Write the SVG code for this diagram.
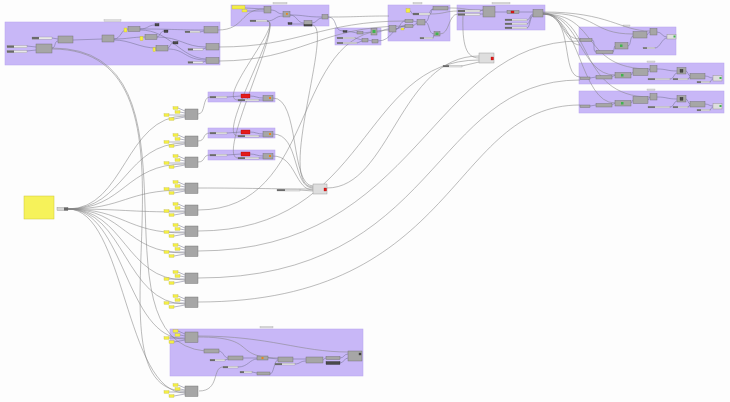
<svg xmlns="http://www.w3.org/2000/svg" width="730" height="402" viewBox="0 0 730 402">
<style>
.grp{fill:#c8b7f7;stroke:#b7a4ee;stroke-width:.5}
.ttl{fill:#dcdcdc;stroke:#a0a0a0;stroke-width:.3}
.w{fill:none;stroke:#858585;stroke-width:.55}
.wl{fill:none;stroke:#6f6f8a;stroke-width:.5}
.n{fill:#a6a6a6;stroke:#6a6a6a;stroke-width:.4}
.nl{fill:#dedede;stroke:#8a8a8a;stroke-width:.4}
.d{fill:#4a4a4a;stroke:#222;stroke-width:.3}
.y{fill:#f3ee45;stroke:#bdb42c;stroke-width:.3}
.sl{fill:#e8e8e8;stroke:#888;stroke-width:.3}
.sk{fill:#6a6a6a}
.g{fill:#3fb34f}
.r{fill:#e31b1b;stroke:#9a0000;stroke-width:.3}
.o{fill:#e8841f}
</style>
<defs>
<g id="cl">
<path class="wl" d="M178 -1 L185 2 M180 3 L185 4 M169 6 L185 6 M174 10 L185 8"/>
<rect class="y" x="173" y="-2.3" width="5" height="2.6"/>
<rect class="y" x="175" y="1.7" width="5" height="2.6"/>
<rect class="y" x="164" y="4.7" width="5" height="2.6"/>
<rect class="y" x="169" y="8.7" width="5" height="2.6"/>
<rect class="n" x="185" y="0" width="13" height="10.5"/>
</g>
<g id="redgrp">
<rect class="sl" x="210" y="96.2" width="17" height="1.8"/><rect class="sk" x="210" y="96.2" width="6" height="1.8"/>
<rect class="r" x="241" y="94" width="9" height="4"/>
<rect class="sl" x="238" y="99.2" width="21" height="1.8"/><rect class="sk" x="238" y="99.2" width="7" height="1.8"/>
<rect class="n" x="263" y="95.5" width="10" height="5.5"/><rect class="o" x="269" y="97" width="2" height="2"/>
</g>
<g id="row">
<rect class="n" x="580" y="77" width="10" height="2.5"/>
<rect class="n" x="596" y="75.5" width="16" height="3.5"/>
<rect class="n" x="615" y="72.5" width="16" height="5.5"/><rect class="g" x="621" y="74" width="2.5" height="2.5"/>
<rect class="n" x="633" y="68.5" width="15" height="7"/>
<rect class="n" x="650" y="65.5" width="7" height="6.5"/>
<rect class="n" x="677" y="67.5" width="9" height="6.5"/><rect class="d" x="680" y="69.3" width="3" height="3"/>
<rect class="n" x="690" y="73.5" width="15" height="5.5"/>
<rect class="nl" x="713" y="75.5" width="9" height="5.5"/><rect class="g" x="719.5" y="77" width="2" height="2"/>
<rect class="sl" x="648" y="78.3" width="22" height="1.6"/><rect class="sk" x="648" y="78.3" width="7" height="1.6"/>
<rect class="sl" x="673" y="78.3" width="15" height="1.6"/><rect class="sk" x="673" y="78.3" width="5" height="1.6"/>
<rect class="sl" x="697" y="81.3" width="13" height="1.6"/><rect class="sk" x="697" y="81.3" width="4" height="1.6"/>
</g>
</defs>
<rect width="730" height="402" fill="#fdfdfd"/>
<g id="groups">
<rect class="grp" x="5" y="22" width="215" height="43"/>
<rect class="grp" x="231" y="5" width="98" height="21"/>
<rect class="grp" x="335" y="28" width="46" height="17"/>
<rect class="grp" x="388" y="5" width="62" height="36"/>
<rect class="grp" x="457" y="5" width="88" height="25"/>
<rect class="grp" x="579" y="27" width="97" height="28"/>
<rect class="grp" x="579" y="63" width="145" height="21"/>
<rect class="grp" x="579" y="91" width="145" height="22"/>
<rect class="grp" x="208" y="92" width="67" height="10"/>
<rect class="grp" x="208" y="128" width="67" height="10"/>
<rect class="grp" x="208" y="150" width="67" height="10"/>
<rect class="grp" x="170" y="329" width="193" height="47"/>
<rect class="ttl" x="104" y="19.8" width="17" height="1.5"/>
<rect class="ttl" x="273" y="2.5" width="14" height="1.5"/>
<rect class="ttl" x="413" y="2.5" width="9" height="1.5"/>
<rect class="ttl" x="492" y="2.5" width="18" height="1.5"/>
<rect class="ttl" x="623" y="25" width="7" height="1.3"/>
<rect class="ttl" x="647" y="61" width="8" height="1.3"/>
<rect class="ttl" x="647" y="89" width="8" height="1.3"/>
<rect class="ttl" x="260" y="326.5" width="13" height="1.5"/>
</g>
<g id="connectors">
<path class="w" d="M68 209 C125 209,125 116,185 116 M68 209 C125 209,125 143,185 143 M68 209 C125 209,125 164,185 164 M68 209 C125 209,125 190,185 190 M68 209 C125 209,125 212,185 212 M68 209 C125 209,125 233,185 233 M68 209 C125 209,125 253,185 253 M68 209 C125 209,125 280,185 280 M68 209 C125 209,125 304,185 304 M68 209 C125 209,125 339,185 339 M68 209 C125 209,125 393,185 393"/>
<path class="w" d="M52 48 C215 48,85 340,205 351 M52 49 C225 49,75 392,185 391"/>
<path class="wl" d="M27 46 L36 47 M27 51 L36 50 M52 38 L58 39 M52 48 C56 48,54 41,58 41 M73 40 L102 39 M114 39 C121 39,121 29,128 29 M114 39 C128 39,132 37,145 37 M114 40 C130 40,140 48,156 48 M140 29 C148 29,148 25,155 25 M140 29 C175 29,175 30,204 30 M157 37 C160 37,160 31,164 31 M157 37 C180 37,185 47,206 47 M168 48 C170 48,170 43,173 43 M168 49 C185 49,185 60,206 60 M140 30 C170 30,180 58,206 59 M200 32 L204 31 M203 49 L206 48 M203 62 L206 61"/>
<path class="w" d="M218 30 C245 30,240 9,264 9 M219 47 C300 47,320 21,405 21 M219 61 C300 61,320 26,405 26"/>
<path class="w" d="M267 21 C285 21,215 100,238 100 M267 21 C285 21,215 136,238 136 M267 21 C285 21,215 158,238 158 M312 25 C335 25,275 187,313 187"/>
<path class="wl" d="M245 8 L264 9 M247 11 L264 11 M271 10 C277 10,277 14,283 14 M267 21 C275 21,275 16,283 16 M290 15 C305 15,305 17,322 17 M290 15 C297 15,297 23,304 23 M292 24 L304 24 M312 23 C317 23,317 18,322 18 M328 17 C338 17,333 31,343 31"/>
<path class="w" d="M328 17 C360 17,360 16,389 16"/>
<path class="wl" d="M347 31 L357 33 M363 33 L371 32 M355 38 L362 40 M357 43 L362 41 M368 40 L372 41 M377 32 C383 32,383 29,389 29 M378 41 C392 41,392 26,405 26"/>
<path class="wl" d="M396 29 C400 29,400 21,405 21 M396 29 C400 29,400 26,405 26 M410 11 C412 11,411 14,413 14 M413 21 L417 22 M413 26 L417 23 M404 29 L405 27 M425 22 C430 22,428 34,434 34 M425 22 C430 22,428 9,433 9 M430 14 C432 14,431 9,433 9 M433 38 L434 35"/>
<path class="w" d="M448 8 C470 8,460 10,483 10 M430 14 C445 14,445 11,458 11 M440 34 C450 34,448 14,458 14"/>
<path class="wl" d="M480 11 L483 10 M480 14 L483 14 M495 12 L507 12 M519 12 L533 12 M527 20 C530 20,530 14,533 14 M527 24 C530 24,530 15,533 15 M527 28 C530 28,530 16,533 16"/>
<path class="w" d="M463 15 C462 45,466 58,479 58 M462 66 L479 62"/>
<path class="w" d="M543 13 C565 13,560 39,580 39 M543 13 C562 13,565 45,580 45 M543 13 C600 13,590 34,633 34 M543 12 C610 12,620 31,650 31 M543 14 C575 14,560 77,580 77 M543 14 C600 14,580 69,650 69 M543 14 C595 14,575 97,650 97 M543 14 C580 14,580 75,615 75 M543 14 C580 14,580 103,615 103"/>
<path class="wl" d="M592 40 C596 40,592 52,596 52 M613 52 C614 52,614 46,615 46 M628 46 C631 46,630 36,633 36 M647 35 C648 35,648 32,650 32 M657 32 C662 32,662 37,667 37 M655 48 C660 48,662 38,667 38"/>
<path class="wl" d="M590 78 L596 77 M612 77 L615 75 M631 75 C632 75,632 72,633 72 M648 72 C649 72,649 69,650 69 M657 69 C667 69,667 71,677 71 M686 71 C688 71,688 76,690 76 M705 76 C709 76,709 78,713 78 M670 79 C674 79,674 73,677 73 M688 79 C689 79,689 77,690 77 M710 82 C711 82,711 79,713 79"/>
<path class="wl" transform="translate(0,28)" d="M590 78 L596 77 M612 77 L615 75 M631 75 C632 75,632 72,633 72 M648 72 C649 72,649 69,650 69 M657 69 C667 69,667 71,677 71 M686 71 C688 71,688 76,690 76 M705 76 C709 76,709 78,713 78 M670 79 C674 79,674 73,677 73 M688 79 C689 79,689 77,690 77 M710 82 C711 82,711 79,713 79"/>
<path class="wl" d="M227 97 L241 96 M250 96 C256 96,257 98,263 98 M259 100 L263 100 M227 133 L241 132 M250 132 C256 132,257 134,263 134 M259 136 L263 136 M227 155 L241 154 M250 154 C256 154,257 156,263 156 M259 158 L263 158"/>
<path class="w" d="M273 98 C300 98,290 186,313 186 M273 134 C300 134,292 188,313 188 M273 156 C296 156,295 190,313 190"/>
<path class="w" d="M198 114 C206 114,202 97,210 97 M198 141 C206 141,202 133,210 133 M198 162 C206 162,202 155,210 155 M198 188 C250 188,270 189,313 189 M300 190 L313 191"/>
<path class="w" d="M198 210 C320 210,290 30,389 30 M198 231 C370 231,360 60,479 60 M198 251 C420 251,430 41,580 41 M198 278 C440 278,430 80,580 80 M198 302 C460 302,450 105,580 105 M327 188 C390 188,400 56,479 56"/>
<path class="w" d="M198 336 C270 336,300 352,348 352 M198 337 C260 337,230 357,278 358 M199 391 C220 391,212 367,223 367"/>
<path class="wl" d="M219 351 C223 351,224 358,228 358 M225 360 L228 359 M243 358 L257 358 M238 367 C248 367,250 359,257 359 M252 372 L257 373 M268 358 L278 359 M270 374 C274 374,274 360,278 360 M293 359 L306 359 M295 364 C300 364,300 361,306 361 M323 360 C324 360,324 358,326 358 M340 358 C344 358,344 354,348 354 M340 363 C344 363,344 358,348 358"/>
</g>
<g id="panel">
<rect x="24" y="196" width="30" height="23" fill="#f6f25a" stroke="#cfc83a" stroke-width=".5"/>
<rect x="57" y="207.5" width="11" height="3" fill="#d4d4d4" stroke="#777" stroke-width=".3"/>
<rect x="64" y="207.5" width="4" height="3" fill="#666"/>
</g>
<g id="group-1">
<rect class="sl" x="7" y="45.5" width="20" height="2.2"/><rect class="sk" x="7" y="45.5" width="7" height="2.2"/>
<rect class="sl" x="7" y="50.5" width="20" height="2.2"/><rect class="sk" x="7" y="50.5" width="7" height="2.2"/>
<rect class="sl" x="32" y="37" width="20" height="2.2"/><rect class="sk" x="32" y="37" width="7" height="2.2"/>
<rect class="n" x="36" y="44" width="16" height="9"/>
<rect class="n" x="58" y="36" width="15" height="7"/>
<rect class="n" x="102" y="35" width="12" height="7"/>
<rect class="y" x="124" y="28" width="3" height="4"/>
<rect class="n" x="128" y="26.5" width="12" height="5"/>
<rect class="d" x="155" y="23.5" width="4" height="2.5"/>
<rect class="y" x="140" y="36.5" width="3" height="4"/>
<rect class="n" x="145" y="34.5" width="12" height="5"/>
<rect class="d" x="164" y="30" width="4" height="2.5"/>
<rect class="y" x="153" y="47.5" width="2.5" height="4"/>
<rect class="n" x="156" y="45.5" width="12" height="5.5"/>
<rect class="d" x="173" y="41.5" width="5" height="2.5"/>
<rect class="sl" x="185" y="31" width="15" height="1.8"/><rect class="sk" x="185" y="31" width="5" height="1.8"/>
<rect class="sl" x="188" y="48.5" width="15" height="1.8"/><rect class="sk" x="188" y="48.5" width="5" height="1.8"/>
<rect class="sl" x="188" y="61.5" width="15" height="1.8"/><rect class="sk" x="188" y="61.5" width="5" height="1.8"/>
<rect class="n" x="204" y="26.5" width="14" height="6.5"/>
<rect class="n" x="206" y="43.5" width="13" height="6.5"/>
<rect class="n" x="206" y="57.5" width="13" height="6"/>
</g>
<g id="group-2">
<rect class="y" x="232" y="5.5" width="13" height="3.5"/>
<rect class="y" x="242" y="9.5" width="5" height="2.5"/>
<rect class="n" x="264" y="6.5" width="7" height="6.5"/>
<rect class="n" x="283" y="11.5" width="7" height="5.5"/><rect class="o" x="286" y="13" width="1.8" height="1.8"/>
<rect class="sl" x="250" y="20" width="17" height="1.8"/><rect class="sk" x="250" y="20" width="6" height="1.8"/>
<rect class="d" x="288" y="22.5" width="4" height="2"/>
<rect class="n" x="304" y="20.5" width="8" height="5.5"/><rect class="d" x="304" y="24.5" width="8" height="1.5"/>
<rect class="n" x="322" y="14.5" width="6" height="4.5"/>
</g>
<g id="group-3">
<rect class="d" x="343" y="30.5" width="4" height="1.8"/>
<rect class="n" x="357" y="31.5" width="6" height="2.5"/>
<rect class="n" x="371" y="28.5" width="6" height="6.5"/><rect class="g" x="372.5" y="30" width="3" height="3"/>
<rect class="sl" x="337" y="37.2" width="18" height="1.6"/><rect class="sk" x="337" y="37.2" width="6" height="1.6"/>
<rect class="sl" x="337" y="42.2" width="20" height="1.6"/><rect class="sk" x="337" y="42.2" width="6" height="1.6"/>
<rect class="n" x="362" y="38.5" width="6" height="3.5"/>
<rect class="n" x="372" y="39.5" width="6" height="3.5"/>
</g>
<g id="group-4">
<rect class="y" x="406" y="8.5" width="4" height="4"/>
<rect class="sl" x="413" y="13" width="17" height="2"/><rect class="sk" x="413" y="13" width="6" height="2"/>
<rect class="n" x="433" y="6.5" width="15" height="3.5"/>
<rect class="n" x="389" y="25.5" width="7" height="6.5"/>
<rect class="n" x="405" y="19.5" width="8" height="3"/>
<rect class="n" x="405" y="24.5" width="8" height="3"/>
<rect class="y" x="401" y="28" width="3" height="2"/>
<rect class="n" x="417" y="19.5" width="8" height="5.5"/>
<rect class="n" x="434" y="31.5" width="6" height="4.5"/><rect class="g" x="435.5" y="32.5" width="3" height="2.5"/>
<rect class="sl" x="420" y="37.3" width="13" height="1.6"/><rect class="sk" x="420" y="37.3" width="4" height="1.6"/>
</g>
<g id="group-5">
<rect class="sl" x="458" y="10" width="22" height="2"/><rect class="sk" x="458" y="10" width="7" height="2"/>
<rect class="sl" x="458" y="13.5" width="22" height="2"/><rect class="sk" x="458" y="13.5" width="7" height="2"/>
<rect class="n" x="483" y="6.5" width="12" height="10.5"/>
<rect class="n" x="507" y="10.5" width="12" height="3"/><rect class="r" x="511" y="11" width="3" height="2"/>
<rect class="n" x="533" y="9.5" width="10" height="7.5"/>
<rect class="sl" x="505" y="19" width="22" height="1.8"/><rect class="sk" x="505" y="19" width="7" height="1.8"/>
<rect class="sl" x="505" y="23" width="22" height="1.8"/><rect class="sk" x="505" y="23" width="7" height="1.8"/>
<rect class="sl" x="505" y="27" width="22" height="1.8"/><rect class="sk" x="505" y="27" width="7" height="1.8"/>
</g>
<g id="node-mid">
<rect class="sl" x="443" y="65.2" width="19" height="1.8"/><rect class="sk" x="443" y="65.2" width="6" height="1.8"/>
<rect class="nl" x="479" y="53" width="15" height="10"/><rect class="r" x="491" y="57" width="2.5" height="3"/>
</g>
<g id="group-6">
<rect class="n" x="580" y="38.5" width="12" height="3"/>
<rect class="n" x="596" y="50.5" width="17" height="3"/>
<rect class="n" x="615" y="42.5" width="13" height="6.5"/><rect class="g" x="620" y="44.5" width="2.5" height="2.5"/>
<rect class="n" x="633" y="31.5" width="14" height="6.5"/>
<rect class="n" x="650" y="28.5" width="7" height="6.5"/>
<rect class="nl" x="667" y="34.5" width="9" height="4.5"/><rect class="g" x="673.5" y="35.5" width="2" height="2"/>
<rect class="sl" x="643" y="47.3" width="12" height="1.5"/><rect class="sk" x="643" y="47.3" width="4" height="1.5"/>
</g>
<g id="group-7"><use href="#row"/></g>
<g id="group-8"><use href="#row" y="28"/></g>
<g id="red-group-a"><use href="#redgrp"/></g>
<g id="red-group-b"><use href="#redgrp" y="36"/></g>
<g id="red-group-c"><use href="#redgrp" y="58"/></g>
<g id="node-center">
<rect class="sl" x="277" y="189.2" width="23" height="1.8"/><rect class="sk" x="277" y="189.2" width="8" height="1.8"/>
<rect class="nl" x="313" y="184" width="14" height="10"/><rect class="r" x="324" y="188" width="2.5" height="3"/>
</g>
<g id="cluster-1"><use href="#cl" y="109"/></g>
<g id="cluster-2"><use href="#cl" y="136"/></g>
<g id="cluster-3"><use href="#cl" y="157"/></g>
<g id="cluster-4"><use href="#cl" y="183"/></g>
<g id="cluster-5"><use href="#cl" y="205"/></g>
<g id="cluster-6"><use href="#cl" y="226"/></g>
<g id="cluster-7"><use href="#cl" y="246"/></g>
<g id="cluster-8"><use href="#cl" y="273"/></g>
<g id="cluster-9"><use href="#cl" y="297"/></g>
<g id="cluster-10"><use href="#cl" y="332"/></g>
<g id="cluster-11"><use href="#cl" y="386"/></g>
<g id="bottom-group">
<rect class="n" x="204" y="349" width="15" height="4"/>
<rect class="sl" x="210" y="359.2" width="15" height="1.8"/><rect class="sk" x="210" y="359.2" width="5" height="1.8"/>
<rect class="n" x="228" y="356" width="15" height="4"/>
<rect class="n" x="257" y="356" width="11" height="4"/><rect class="o" x="261.5" y="357" width="2" height="2"/>
<rect class="sl" x="223" y="366.2" width="15" height="1.8"/><rect class="sk" x="223" y="366.2" width="5" height="1.8"/>
<rect class="sl" x="240" y="371.2" width="12" height="1.8"/><rect class="sk" x="240" y="371.2" width="4" height="1.8"/>
<rect class="n" x="257" y="372" width="13" height="3"/>
<rect class="n" x="278" y="357" width="15" height="5"/>
<rect class="sl" x="275" y="363.2" width="20" height="1.8"/><rect class="sk" x="275" y="363.2" width="7" height="1.8"/>
<rect class="n" x="306" y="357" width="17" height="6"/>
<rect class="n" x="326" y="356.5" width="14" height="3"/>
<rect class="d" x="326" y="361.5" width="14" height="3"/>
<rect class="n" x="348" y="351" width="14" height="10"/><rect class="d" x="359" y="353" width="2" height="2"/>
</g>
</svg>
